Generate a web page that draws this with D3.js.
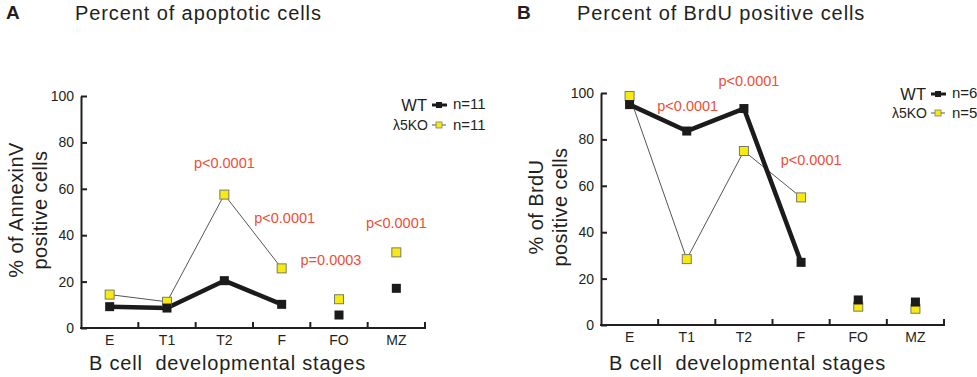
<!DOCTYPE html>
<head>
	<meta charset="utf-8" />
	<style>
		body {
			margin: 0;
			background-color: #fff;
			font-family: 'Liberation Sans', Arial, sans-serif;
		}
		text {
			fill: #231f20;
		}
		.pval {
			fill: #ef4e36;
		}
	</style>
</head>
<body>
	<div id="chart-area"></div>
	<script src="https://cdnjs.cloudflare.com/ajax/libs/d3/7.8.5/d3.min.js"></script>
	<script>
		// values
		const stages = ['E', 'T1', 'T2', 'F', 'FO', 'MZ'];
		const linked = ['E', 'T1', 'T2', 'F'];
		const yTicks = [0, 20, 40, 60, 80, 100];

		const apoWT = [9.2, 8.6, 20.4, 10.2, 5.6, 17.1];
		const apoKO = [14.4, 11.3, 57.5, 25.7, 12.4, 32.6];
		const apoPvals = [
			{ stage: 'T2', y: 71, dx: 0, text: 'p<0.0001' },
			{ stage: 'F', y: 47.4, dx: 3, text: 'p<0.0001' },
			{ stage: 'FO', y: 29.3, dx: -8, text: 'p=0.0003' },
			{ stage: 'MZ', y: 45.3, dx: 0, text: 'p<0.0001' },
		];

		const brduWT = [95.0, 83.6, 93.3, 27.0, 10.8, 9.9];
		const brduKO = [98.7, 28.4, 75.0, 55.0, 7.9, 7.0];
		const brduPvals = [
			{ stage: 'T1', y: 94.3, dx: 1, text: 'p<0.0001' },
			{ stage: 'T2', y: 105, dx: 5, text: 'p<0.0001' },
			{ stage: 'F', y: 71, dx: 10, text: 'p<0.0001' },
		];

		const W = 977,
			H = 377;

		const svg = d3
			.select('#chart-area')
			.append('svg')
			.attr('width', W)
			.attr('height', H);

		drawPanel({
			letter: 'A',
			letterX: 6,
			title: 'Percent of apoptotic cells',
			titleX: 75,
			yTitle: ['% of AnnexinV', 'positive cells'],
			x0: 81,
			x1: 425,
			y0: 328,
			y1: 96,
			legX: 427,
			legY: [105, 125],
			wt: apoWT,
			ko: apoKO,
			pvals: apoPvals,
			nWT: 'n=11',
			nKO: 'n=11',
		});

		drawPanel({
			letter: 'B',
			letterX: 517,
			title: 'Percent of BrdU positive cells',
			titleX: 577,
			yTitle: ['% of BrdU', 'positive cells'],
			x0: 601,
			x1: 944,
			y0: 325,
			y1: 93,
			legX: 926,
			legY: [94, 113],
			wt: brduWT,
			ko: brduKO,
			pvals: brduPvals,
			nWT: 'n=6',
			nKO: 'n=5',
		});

		function drawPanel(p) {
			const g = svg.append('g');
			const x = d3.scaleBand().domain(stages).range([p.x0, p.x1]);
			const y = d3.scaleLinear().domain([0, 100]).range([p.y0, p.y1]);
			const cx = s => x(s) + x.bandwidth() / 2;

			// panel letter + title
			g.append('text')
				.attr('x', p.letterX)
				.attr('y', 19)
				.style('font-size', '19px')
				.style('font-weight', 'bold')
				.text(p.letter);
			g.append('text')
				.attr('x', p.titleX)
				.attr('y', 20)
				.style('font-size', '20px')
				.style('letter-spacing', '0.9px')
				.text(p.title);

			// y axis, ticks pointing inward
			const yAxis = d3
				.axisLeft(y)
				.tickValues(yTicks)
				.tickSizeInner(-6)
				.tickSizeOuter(0)
				.tickPadding(7);
			const ya = g
				.append('g')
				.attr('transform', `translate(${p.x0},0)`)
				.call(yAxis);
			ya.select('.domain').attr('stroke', '#231f20').attr('stroke-width', 2);
			ya.selectAll('.tick line').attr('stroke', '#231f20').attr('stroke-width', 2);
			ya.selectAll('.tick text')
				.style('font-size', '14px')
				.style('font-family', "'Liberation Sans', Arial, sans-serif")
				.attr('fill', '#231f20');

			// x axis: ticks at band edges, pointing up
			const edges = stages.map(s => x(s) + x.bandwidth());
			g.append('line')
				.attr('x1', p.x0 - 1)
				.attr('x2', p.x1 + 1)
				.attr('y1', y(0))
				.attr('y2', y(0))
				.attr('stroke', '#231f20')
				.attr('stroke-width', 2);
			g.selectAll('.xtick')
				.data(edges)
				.join('line')
				.attr('x1', d => d)
				.attr('x2', d => d)
				.attr('y1', y(0))
				.attr('y2', y(0) - 6)
				.attr('stroke', '#231f20')
				.attr('stroke-width', 2);
			g.selectAll('.xlab')
				.data(stages)
				.join('text')
				.attr('x', d => cx(d))
				.attr('y', y(0) + 17)
				.attr('text-anchor', 'middle')
				.style('font-size', '14px')
				.text(d => d);

			g.append('text')
				.attr('x', p.x0 + 8)
				.attr('y', 370)
				.style('font-size', '20px')
				.style('letter-spacing', '0.8px')
				.style('white-space', 'pre')
				.text('B cell  developmental stages');

			// y title
			const ymid = (p.y0 + p.y1) / 2 - 2;
			p.yTitle.forEach((t, i) => {
				g.append('text')
					.attr('transform', `translate(${p.x0 - 58 + i * 24},${ymid}) rotate(-90)`)
					.attr('text-anchor', 'middle')
					.style('font-size', '20px')
					.style('letter-spacing', '0.4px')
					.text(t);
			});

			// series
			const line = d3
				.line()
				.x(d => cx(d.s))
				.y(d => y(d.v));
			const ko = stages.map((s, i) => ({ s, v: p.ko[i] }));
			const wt = stages.map((s, i) => ({ s, v: p.wt[i] }));

			g.append('path')
				.datum(ko.filter(d => linked.includes(d.s)))
				.attr('d', line)
				.attr('fill', 'none')
				.attr('stroke', '#555')
				.attr('stroke-width', 1);
			g.append('path')
				.datum(wt.filter(d => linked.includes(d.s)))
				.attr('d', line)
				.attr('fill', 'none')
				.attr('stroke', '#1c1a1a')
				.attr('stroke-width', 4.5)
				.attr('stroke-linejoin', 'round');

			const sq = 9;
			g.selectAll('.ko')
				.data(ko)
				.join('rect')
				.attr('x', d => cx(d.s) - sq / 2)
				.attr('y', d => y(d.v) - sq / 2)
				.attr('width', sq)
				.attr('height', sq)
				.attr('fill', '#f7ea10')
				.attr('stroke', '#7a7a6a')
				.attr('stroke-width', 1);
			g.selectAll('.wt')
				.data(wt)
				.join('rect')
				.attr('x', d => cx(d.s) - sq / 2)
				.attr('y', d => y(d.v) - sq / 2)
				.attr('width', sq)
				.attr('height', sq)
				.attr('fill', '#1c1a1a');

			// p values
			g.selectAll('.pval')
				.data(p.pvals)
				.join('text')
				.attr('class', 'pval')
				.attr('x', d => cx(d.stage) + d.dx)
				.attr('y', d => y(d.y))
				.attr('dy', '0.35em')
				.attr('text-anchor', 'middle')
				.style('font-size', '14.5px')
				.text(d => d.text);

			// legend
			const lx = p.legX,
				[ly1, ly2] = p.legY;
			g.append('text')
				.attr('x', lx)
				.attr('y', ly1 + 6)
				.attr('text-anchor', 'end')
				.style('font-size', '16.5px')
				.text('WT');
			g.append('line')
				.attr('x1', lx + 5)
				.attr('x2', lx + 20)
				.attr('y1', ly1)
				.attr('y2', ly1)
				.attr('stroke', '#1c1a1a')
				.attr('stroke-width', 3);
			g.append('rect')
				.attr('x', lx + 9)
				.attr('y', ly1 - 3)
				.attr('width', 6)
				.attr('height', 6)
				.attr('fill', '#1c1a1a');
			g.append('text')
				.attr('x', lx + 26)
				.attr('y', ly1 + 4)
				.style('font-size', '15px')
				.text(p.nWT);

			g.append('text')
				.attr('x', lx + 1)
				.attr('y', ly2 + 5)
				.attr('text-anchor', 'end')
				.style('font-size', '14px')
				.text('λ5KO');
			g.append('line')
				.attr('x1', lx + 5)
				.attr('x2', lx + 19)
				.attr('y1', ly2)
				.attr('y2', ly2)
				.attr('stroke', '#555')
				.attr('stroke-width', 1);
			g.append('rect')
				.attr('x', lx + 9)
				.attr('y', ly2 - 3)
				.attr('width', 6)
				.attr('height', 6)
				.attr('fill', '#f7ea10')
				.attr('stroke', '#7a7a6a')
				.attr('stroke-width', 0.8);
			g.append('text')
				.attr('x', lx + 26)
				.attr('y', ly2 + 5)
				.style('font-size', '15px')
				.text(p.nKO);
		}
	</script>
</body>
